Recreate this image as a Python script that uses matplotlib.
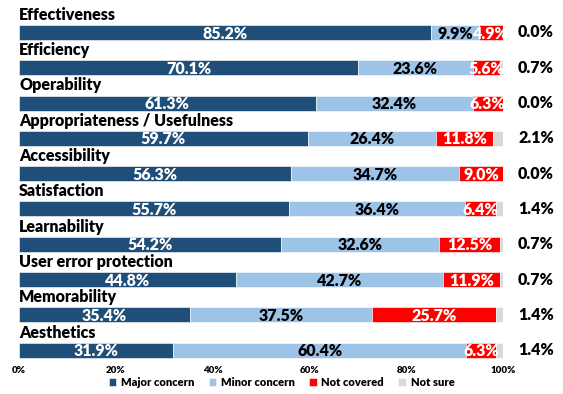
import numpy as np
import matplotlib
matplotlib.use("Agg")
import matplotlib.pyplot as plt

plt.rcParams['font.family'] = ['Lato', 'DejaVu Sans']
plt.rcParams['font.weight'] = 'bold'

categories = ["Effectiveness", "Efficiency", "Operability", "Appropriateness / Usefulness",
              "Accessibility", "Satisfaction", "Learnability", "User error protection",
              "Memorability", "Aesthetics"]
major = [85.2, 70.1, 61.3, 59.7, 56.3, 55.7, 54.2, 44.8, 35.4, 31.9]
minor = [9.9, 23.6, 32.4, 26.4, 34.7, 36.4, 32.6, 42.7, 37.5, 60.4]
not_covered = [4.9, 5.6, 6.3, 11.8, 9.0, 6.4, 12.5, 11.9, 25.7, 6.3]
not_sure = [0.0, 0.7, 0.0, 2.1, 0.0, 1.4, 0.7, 0.7, 1.4, 1.4]

series = [("Major concern", major, "#1F4E79", "white"),
          ("Minor concern", minor, "#9DC3E6", "black"),
          ("Not covered", not_covered, "#FF0000", "white"),
          ("Not sure", not_sure, "#D9D9D9", "black")]

fig = plt.figure(figsize=(5.63, 3.94), dpi=100)
ax = fig.add_axes([19 / 563, 1 - 360 / 394, 484 / 563, 350 / 394])

y = np.arange(len(categories))
h = 0.425
left = np.zeros(len(categories))
for name, vals, color, tcolor in series:
    vals = np.array(vals)
    ax.barh(y, vals, left=left, height=h, color=color, label=name,
            edgecolor="white", linewidth=0.4)
    if name != "Not sure":
        for yi, l, v in zip(y, left, vals):
            ax.text(l + v / 2, yi + 0.03, f"{v:.1f}%", ha="center", va="center",
                    color=tcolor, fontsize=11.5, fontweight="heavy")
    else:
        for yi, v in zip(y, vals):
            ax.text(106.8, yi, f"{v:.1f}%", ha="center", va="center",
                    color="black", fontsize=11.5, fontweight="heavy")
    left += vals

for yi, cat in zip(y, categories):
    ax.text(0, yi - h / 2 - 0.06, cat, ha="left", va="bottom",
            fontsize=11.5, fontweight="heavy", color="black")

ax.set_xlim(0, 100)
ax.set_ylim(9.28, -0.637)
ax.set_xticks([0, 20, 40, 60, 80, 100])
ax.set_xticklabels(["0%", "20%", "40%", "60%", "80%", "100%"], fontsize=7, fontweight="heavy")
ax.set_yticks([])
ax.tick_params(axis="x", length=0, pad=4)
for s in ax.spines.values():
    s.set_visible(False)

fig.legend(loc="lower center", bbox_to_anchor=(0.5, -0.01), ncol=4, frameon=False,
           fontsize=8, handlelength=0.7, handleheight=0.7, handletextpad=0.4,
           columnspacing=1.3, prop={'weight': 'heavy', 'size': 8})

fig.savefig("out.png", dpi=100)
